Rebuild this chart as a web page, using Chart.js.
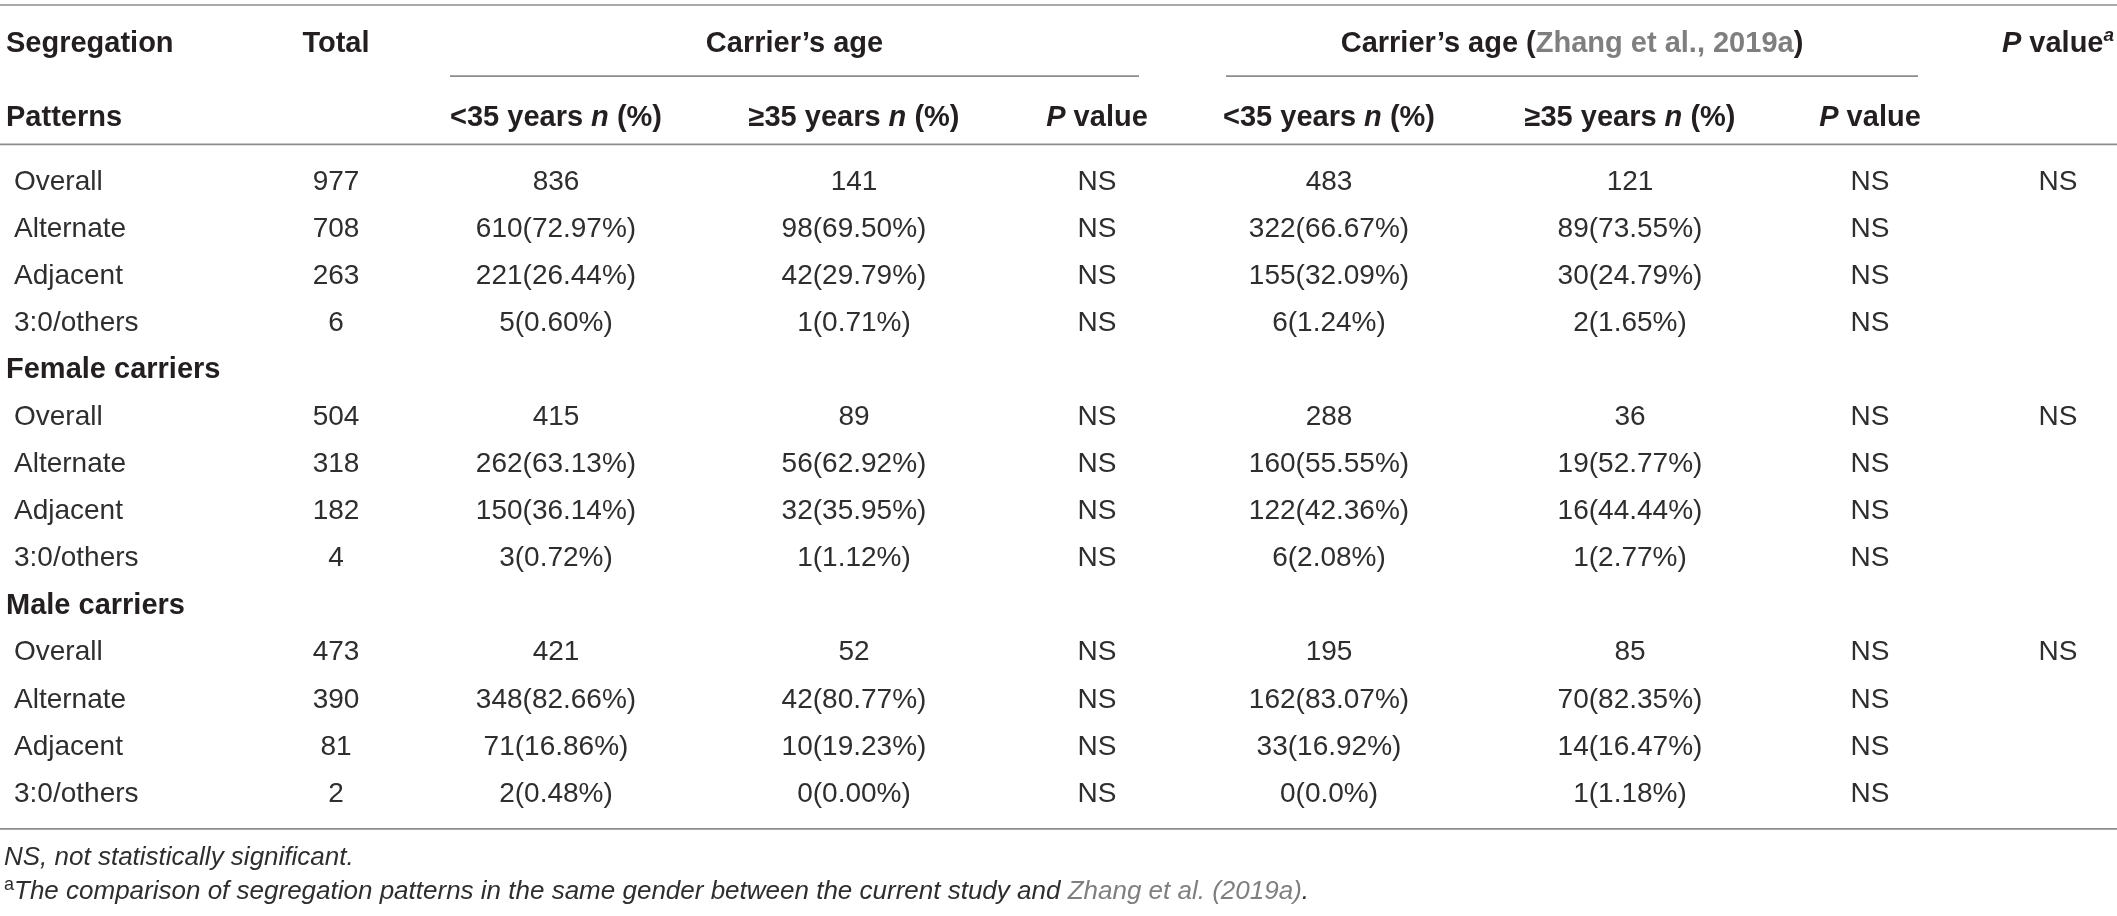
<!DOCTYPE html>
<html>
<head>
<meta charset="utf-8">
<script src="https://cdn.jsdelivr.net/npm/chart.js@4.4.1/dist/chart.umd.min.js"></script>
<style>
  html, body { margin: 0; padding: 0; background: #ffffff; }
  #wrap { width: 2117px; height: 916px; }
</style>
</head>
<body>
<div id="wrap"><canvas id="c" width="2117" height="916"></canvas></div>
<script>
// ---------- DATA ----------
const rowLabels = ['Overall', 'Alternate', 'Adjacent', '3:0/others',
  'Female carriers', 'Overall', 'Alternate', 'Adjacent', '3:0/others',
  'Male carriers', 'Overall', 'Alternate', 'Adjacent', '3:0/others'];
const groupRows = [4, 9];
const totalCol = ['977', '708', '263', '6', '', '504', '318', '182', '4', '', '473', '390', '81', '2'];
const under35 = ['836', '610(72.97%)', '221(26.44%)', '5(0.60%)', '',
  '415', '262(63.13%)', '150(36.14%)', '3(0.72%)', '',
  '421', '348(82.66%)', '71(16.86%)', '2(0.48%)'];
const over35 = ['141', '98(69.50%)', '42(29.79%)', '1(0.71%)', '',
  '89', '56(62.92%)', '32(35.95%)', '1(1.12%)', '',
  '52', '42(80.77%)', '10(19.23%)', '0(0.00%)'];
const pCurrent = ['NS', 'NS', 'NS', 'NS', '', 'NS', 'NS', 'NS', 'NS', '', 'NS', 'NS', 'NS', 'NS'];
const under35Zhang = ['483', '322(66.67%)', '155(32.09%)', '6(1.24%)', '',
  '288', '160(55.55%)', '122(42.36%)', '6(2.08%)', '',
  '195', '162(83.07%)', '33(16.92%)', '0(0.0%)'];
const over35Zhang = ['121', '89(73.55%)', '30(24.79%)', '2(1.65%)', '',
  '36', '19(52.77%)', '16(44.44%)', '1(2.77%)', '',
  '85', '70(82.35%)', '14(16.47%)', '1(1.18%)'];
const pZhang = ['NS', 'NS', 'NS', 'NS', '', 'NS', 'NS', 'NS', 'NS', '', 'NS', 'NS', 'NS', 'NS'];
const pCompare = ['NS', '', '', '', '', 'NS', '', '', '', '', 'NS', '', '', ''];
const valueColumns = [totalCol, under35, over35, pCurrent, under35Zhang, over35Zhang, pZhang, pCompare];

// ---------- LAYOUT (x in px along linear x scale, y in row units along category scale) ----------
const colCenters = [336, 556, 854, 1097, 1329, 1630, 1870, 2058];
const labelX = 6, subLabelX = 14;
const Y = { topLine: -3.76, head1: -2.93, spanLine: -2.25, head2: -1.36, headLine: -0.8,
            bottomLine: 13.74, note1: 14.36, note2: 15.08 };
const spans = [[450, 1139], [1226, 1918]];

const FONT = '"Liberation Sans", Arial, Helvetica, sans-serif';
const TXT = '#231f20', BODY = '#2e2e2e', GREY = '#7f7f7f', RULE = '#8c8c8c';

function runs(ctx, parts, x, y, align) {
  // parts: [text, font, color, dy]
  let w = 0;
  parts.forEach(p => { ctx.font = p[1]; w += ctx.measureText(p[0]).width; });
  let cx = align === 'center' ? x - w / 2 : x;
  parts.forEach(p => {
    ctx.font = p[1]; ctx.fillStyle = p[2] || TXT;
    ctx.textAlign = 'left'; ctx.textBaseline = 'middle';
    ctx.fillText(p[0], cx, y + (p[3] || 0));
    cx += ctx.measureText(p[0]).width;
  });
}

const tablePlugin = {
  id: 'tablePlugin',
  afterDraw(chart) {
    const ctx = chart.ctx, xs = chart.scales.x, ys = chart.scales.y;
    const X = v => xs.getPixelForValue(v), Yp = v => ys.getPixelForValue(v);
    ctx.save();
    const B = 'bold 29px ' + FONT, BI = 'italic bold 29px ' + FONT, R = '28px ' + FONT;
    // rules
    ctx.strokeStyle = RULE; ctx.lineWidth = 1.6;
    const hline = (x0, x1, yv) => { const y = Yp(yv); ctx.beginPath(); ctx.moveTo(X(x0), y); ctx.lineTo(X(x1), y); ctx.stroke(); };
    hline(0, 2117, Y.topLine);
    hline(0, 2117, Y.headLine);
    hline(0, 2117, Y.bottomLine);
    spans.forEach(s => hline(s[0], s[1], Y.spanLine));

    // header row 1
    const h1 = Yp(Y.head1), h2 = Yp(Y.head2);
    runs(ctx, [['Segregation', B]], X(labelX), h1, 'left');
    runs(ctx, [['Total', B]], X(colCenters[0]), h1, 'center');
    runs(ctx, [['Carrier\u2019s age', B]], X((spans[0][0] + spans[0][1]) / 2), h1, 'center');
    runs(ctx, [['Carrier\u2019s age (', B], ['Zhang et al., 2019a', B, GREY], [')', B]],
      X((spans[1][0] + spans[1][1]) / 2), h1, 'center');
    runs(ctx, [['P', BI], [' value', B], ['a', 'italic bold 19px ' + FONT, TXT, -8]], X(colCenters[7]), h1, 'center');
    // header row 2
    runs(ctx, [['Patterns', B]], X(labelX), h2, 'left');
    const ageLt = [['<35 years ', B], ['n', BI], [' (%)', B]];
    const ageGe = [['\u226535 years ', B], ['n', BI], [' (%)', B]];
    const pv = [['P', BI], [' value', B]];
    runs(ctx, ageLt, X(colCenters[1]), h2, 'center');
    runs(ctx, ageGe, X(colCenters[2]), h2, 'center');
    runs(ctx, pv, X(colCenters[3]), h2, 'center');
    runs(ctx, ageLt, X(colCenters[4]), h2, 'center');
    runs(ctx, ageGe, X(colCenters[5]), h2, 'center');
    runs(ctx, pv, X(colCenters[6]), h2, 'center');

    // body
    rowLabels.forEach((lab, i) => {
      const y = Yp(i);
      if (groupRows.includes(i)) {
        runs(ctx, [[lab, B, TXT]], X(labelX), y, 'left');
      } else {
        runs(ctx, [[lab, R, BODY]], X(subLabelX), y, 'left');
      }
      valueColumns.forEach((col, c) => {
        if (col[i]) runs(ctx, [[col[i], R, BODY]], X(colCenters[c]), y, 'center');
      });
    });

    // footnotes
    const I = 'italic 26px ' + FONT;
    runs(ctx, [['NS, not statistically significant.', I, BODY]], X(labelX - 2), Yp(Y.note1), 'left');
    runs(ctx, [['a', '18px ' + FONT, BODY, -7],
      ['The comparison of segregation patterns in the same gender between the current study and ', I, BODY],
      ['Zhang et al. (2019a)', I, GREY], ['.', I, BODY]], X(labelX - 2), Yp(Y.note2), 'left');
    ctx.restore();
  }
};

new Chart(document.getElementById('c'), {
  type: 'scatter',
  data: { labels: rowLabels, datasets: [{ data: [], pointRadius: 0 }] },
  options: {
    responsive: false,
    animation: false,
    devicePixelRatio: 1,
    layout: { padding: { top: 182, bottom: 122, left: 0, right: 0 } },
    plugins: { legend: { display: false }, tooltip: { enabled: false } },
    scales: {
      x: { type: 'linear', min: 0, max: 2117, display: false },
      y: { type: 'category', labels: rowLabels, offset: false, display: false }
    }
  },
  plugins: [tablePlugin]
});
</script>
</body>
</html>
